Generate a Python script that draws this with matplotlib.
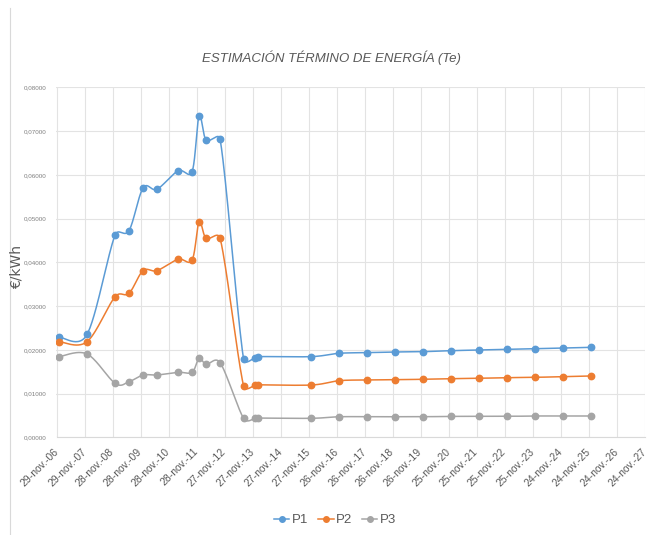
import matplotlib
matplotlib.use("Agg")
import matplotlib.pyplot as plt
import matplotlib.dates as mdates
import matplotlib.transforms as mtransforms
from matplotlib.lines import Line2D
import numpy as np
import datetime as dt

# ---------------- data ----------------
dates = ["2007-01-01", "2008-01-01", "2009-01-01", "2009-07-01", "2010-01-01",
         "2010-07-01", "2011-04-01", "2011-10-01", "2012-01-01", "2012-04-01",
         "2012-10-01", "2013-08-03", "2014-01-01", "2014-02-01", "2016-01-01",
         "2017-01-01", "2018-01-01", "2019-01-01", "2020-01-01", "2021-01-01",
         "2022-01-01", "2023-01-01", "2024-01-01", "2025-01-01", "2026-01-01"]

p1 = [0.0229, 0.0235, 0.04624, 0.04722, 0.0570, 0.0567, 0.0609, 0.0607, 0.07344,
      0.06795, 0.06811, 0.01783, 0.0182, 0.01845, 0.01844, 0.0192, 0.01935,
      0.0195, 0.01958, 0.0198, 0.01996, 0.0201, 0.02026, 0.0204, 0.02057]
p2 = [0.02185, 0.02185, 0.03214, 0.0329, 0.0381, 0.0381, 0.0407, 0.0405, 0.04928,
      0.04548, 0.04548, 0.01173, 0.0119, 0.0120, 0.01195, 0.01294, 0.0131,
      0.01317, 0.01326, 0.0134, 0.01349, 0.01363, 0.01371, 0.01386, 0.01402]
p3 = [0.01842, 0.01904, 0.01234, 0.01271, 0.01424, 0.01424, 0.01486, 0.01486,
      0.01806, 0.01669, 0.01705, 0.00434, 0.00434, 0.00440, 0.00434, 0.0047,
      0.0047, 0.0047, 0.0047, 0.00478, 0.00478, 0.00478, 0.00487, 0.00487, 0.00487]

series_names = ["P1", "P2", "P3"]
series_colors = ["#5B9BD5", "#ED7D31", "#A5A5A5"]

axis_start = "2006-11-29"
n_ticks = 22
tick_labels = ["29-nov.-06", "29-nov.-07", "28-nov.-08", "28-nov.-09", "28-nov.-10",
               "28-nov.-11", "27-nov.-12", "27-nov.-13", "27-nov.-14", "27-nov.-15",
               "26-nov.-16", "26-nov.-17", "26-nov.-18", "26-nov.-19", "25-nov.-20",
               "25-nov.-21", "25-nov.-22", "25-nov.-23", "24-nov.-24", "24-nov.-25",
               "24-nov.-26", "24-nov.-27"]
y_ticks = [0.0, 0.01, 0.02, 0.03, 0.04, 0.05, 0.06, 0.07, 0.08]
y_tick_labels = ["0,00000", "0,01000", "0,02000", "0,03000", "0,04000",
                 "0,05000", "0,06000", "0,07000", "0,08000"]
title = "ESTIMACIÓN TÉRMINO DE ENERGÍA (Te)"
ylabel = "€/kWh"

# ---------------- figure ----------------
W, H = 647, 535
fig = plt.figure(figsize=(W / 100, H / 100), dpi=100)
fig.patch.set_facecolor("white")
ax = fig.add_axes([56.5 / W, 1 - 437.3 / H, (644.5 - 56.5) / W, (437.3 - 87.3) / H])

xd = mdates.date2num([dt.date.fromisoformat(d) for d in dates])
start = mdates.date2num(dt.date.fromisoformat(axis_start))
tick_pos = [start + 365 * k for k in range(n_ticks)]
ax.set_xlim(tick_pos[0], tick_pos[-1])
ax.set_ylim(0, 0.08)


def smooth(x, y, n=30):
    """Excel-like smoothed line: Catmull-Rom Bezier through the points, with
    control-point distance clamped relative to the adjoining segment length."""
    P = ax.transData.transform(np.column_stack([x, y]))
    m = len(P)
    d = np.hypot(*np.diff(P, axis=0).T)
    out = [P[0]]

    def ctrl(T, seg):
        L = np.hypot(*T) / 6.0
        if L == 0:
            return T * 0
        Lc = min(L, 0.6 * seg)
        return T / np.hypot(*T) * Lc

    for i in range(m - 1):
        a, b = P[i], P[i + 1]
        T1 = (P[i + 1] - P[i - 1]) if i > 0 else (b - a)
        T2 = (P[i + 2] - P[i]) if i + 2 < m else (b - a)
        c1 = a + ctrl(T1, d[i])
        c2 = b - ctrl(T2, d[i])
        t = np.linspace(0, 1, n)[1:, None]
        seg = ((1 - t) ** 3) * a + 3 * ((1 - t) ** 2) * t * c1 + 3 * (1 - t) * t ** 2 * c2 + t ** 3 * b
        out.extend(seg)
    out = ax.transData.inverted().transform(np.array(out))
    return out[:, 0], out[:, 1]


fams = ["Liberation Sans", "DejaVu Sans"]
grey_txt = "#595959"

for vals, col in zip([p1, p2, p3], series_colors):
    sx, sy = smooth(xd, vals)
    ax.plot(sx, sy, color=col, lw=1.1, solid_capstyle="round", zorder=3)
    ax.plot(xd, vals, linestyle="none", marker="o", ms=4.6, color=col, zorder=4)

ax.set_xticks(tick_pos)
ax.set_xticklabels(tick_labels, rotation=45, ha="right", va="center",
                   rotation_mode="anchor", family=fams, fontsize=7.5, color=grey_txt)
offset = mtransforms.ScaledTranslation(-2 / 100, 0, fig.dpi_scale_trans)
for lab in ax.get_xticklabels():
    lab.set_transform(lab.get_transform() + offset)
ax.set_yticks(y_ticks)
ax.set_yticklabels(y_tick_labels, family=fams, fontsize=4.5, color="#7f7f7f")
ax.tick_params(axis="both", length=0)
ax.tick_params(axis="x", pad=9)
ax.tick_params(axis="y", pad=7)
ax.grid(True, color="#E3E3E3", lw=0.8)
ax.set_axisbelow(True)
for s in ["top", "right", "left"]:
    ax.spines[s].set_visible(False)
ax.spines["bottom"].set_color("#D9D9D9")
ax.spines["bottom"].set_linewidth(0.8)

fig.text(331 / W, 1 - 58 / H, title, ha="center", va="center", family=fams,
         style="italic", fontsize=9.5, color=grey_txt)
fig.text(17 / W, 1 - 267 / H, ylabel, rotation=90, ha="center", va="center",
         fontsize=10, color=grey_txt, family=["DejaVu Sans"])

handles = [Line2D([0], [0], color=c, lw=1.1, marker="o", ms=4) for c in series_colors]
leg = fig.legend(handles, series_names, loc="center", bbox_to_anchor=(335 / W, 1 - 520 / H),
                 ncol=3, frameon=False, handlelength=1.2, handletextpad=0.2,
                 columnspacing=0.7, prop={"family": fams, "size": 9.5})
for t in leg.get_texts():
    t.set_color(grey_txt)

fig.add_artist(Line2D([10 / W, 10 / W], [0.0, 0.985], transform=fig.transFigure,
                      color="#D9D9D9", lw=0.8))

fig.savefig("out.png", dpi=100)
